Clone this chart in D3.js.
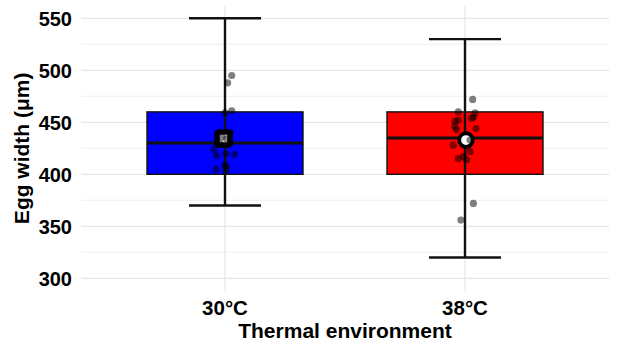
<!DOCTYPE html>
<html>
<head>
<meta charset="utf-8">
<script src="https://cdn.jsdelivr.net/npm/d3@7"></script>
<style>
  html, body { margin: 0; padding: 0; background: #fff; }
  svg { display: block; }
  text { font-family: "Liberation Sans", Arial, sans-serif; font-weight: bold; fill: #000; }
</style>
</head>
<body>
<svg id="chart" width="617" height="346"></svg>
<script>
// ---- data ----
const categories = ["30°C", "38°C"];
const boxFill = ["#0000FF", "#FF0000"];
const boxQ1 = [400, 400];
const boxMedian = [430, 435];
const boxQ3 = [460, 460];
const whiskerLow = [370, 320];
const whiskerHigh = [550, 530];
const points30 = [495, 488, 461, 459, 440, 436, 434, 430, 424, 420, 419, 418, 409, 407, 405, 404];
const jitter30 = [0.028, 0.011, 0.028, 0.0, 0.021, -0.013, 0.007, -0.021, -0.046, 0.004, 0.039, -0.035, 0.0, 0.004, -0.037, 0.004];
const points38 = [472, 460, 459, 455, 454, 452, 451, 446, 444, 443, 433, 428, 422, 417, 415, 414, 372, 356];
const jitter38 = [0.032, -0.028, 0.042, 0.035, 0.028, -0.028, -0.042, -0.042, 0.046, -0.035, 0.021, -0.049, 0.021, -0.007, -0.028, 0.007, 0.035, -0.017];
const yTicks = [300, 350, 400, 450, 500, 550];
const yMinor = [325, 375, 425, 475, 525];
const yTitle = "Egg width (μm)";
const xTitle = "Thermal environment";

const pointSets = [points30, points38];
const jitterSets = [jitter30, jitter38];

// ---- layout ----
const svg = d3.select("#chart");
const panel = { left: 81, right: 609, top: 5.3, bottom: 291.3 };

const x = d3.scalePoint().domain(categories).range([panel.left, panel.right]).padding(0.6);
const step = x.step();
const y = d3.scaleLinear().domain([287.5, 562.5]).range([panel.bottom, panel.top]);

// gridlines
const grid = svg.append("g");
grid.selectAll("line.minor").data(yMinor).join("line")
  .attr("x1", panel.left).attr("x2", panel.right)
  .attr("y1", d => y(d)).attr("y2", d => y(d))
  .attr("stroke", "#ebebeb").attr("stroke-width", 0.8);
grid.selectAll("line.major").data(yTicks).join("line")
  .attr("x1", panel.left).attr("x2", panel.right)
  .attr("y1", d => y(d)).attr("y2", d => y(d))
  .attr("stroke", "#e6e6e6").attr("stroke-width", 1.2);
grid.selectAll("line.vmajor").data(categories).join("line")
  .attr("x1", d => x(d)).attr("x2", d => x(d))
  .attr("y1", panel.top).attr("y2", panel.bottom)
  .attr("stroke", "#e6e6e6").attr("stroke-width", 1.2);

// boxes
const boxHalf = 0.325 * step;
const capHalf = 0.15 * step;
const idx = categories.map((c, i) => i);

const boxes = svg.append("g");
boxes.selectAll("rect").data(idx).join("rect")
  .attr("x", i => x(categories[i]) - boxHalf)
  .attr("width", 2 * boxHalf)
  .attr("y", i => y(boxQ3[i]))
  .attr("height", i => y(boxQ1[i]) - y(boxQ3[i]))
  .attr("fill", i => boxFill[i])
  .attr("stroke", "#111").attr("stroke-width", 1.4);
boxes.selectAll("line.median").data(idx).join("line")
  .attr("x1", i => x(categories[i]) - boxHalf)
  .attr("x2", i => x(categories[i]) + boxHalf)
  .attr("y1", i => y(boxMedian[i])).attr("y2", i => y(boxMedian[i]))
  .attr("stroke", "#111").attr("stroke-width", 3);

// whiskers (error bars)
const wh = svg.append("g").attr("stroke", "#111").attr("stroke-width", 2.4);
wh.selectAll("line.v").data(idx).join("line")
  .attr("x1", i => x(categories[i])).attr("x2", i => x(categories[i]))
  .attr("y1", i => y(whiskerLow[i])).attr("y2", i => y(whiskerHigh[i]));
wh.selectAll("line.lo").data(idx).join("line")
  .attr("x1", i => x(categories[i]) - capHalf).attr("x2", i => x(categories[i]) + capHalf)
  .attr("y1", i => y(whiskerLow[i])).attr("y2", i => y(whiskerLow[i]));
wh.selectAll("line.hi").data(idx).join("line")
  .attr("x1", i => x(categories[i]) - capHalf).attr("x2", i => x(categories[i]) + capHalf)
  .attr("y1", i => y(whiskerHigh[i])).attr("y2", i => y(whiskerHigh[i]));

// mean markers
const means = pointSets.map(p => d3.mean(p));
const mg = svg.append("g");
const sq = 13;
mg.append("rect")
  .attr("x", x(categories[0]) - 1.5 - sq / 2).attr("y", y(means[0]) - sq / 2)
  .attr("width", sq).attr("height", sq).attr("rx", 1.5)
  .attr("fill", "#fff").attr("stroke", "#000").attr("stroke-width", 5.5)
  .attr("stroke-linejoin", "round");
mg.append("circle")
  .attr("cx", x(categories[1]) + 1).attr("cy", y(means[1]))
  .attr("r", 6.8)
  .attr("fill", "#fff").attr("stroke", "#000").attr("stroke-width", 3.8);

// jitter points
const pts = [];
pointSets.forEach((p, i) => p.forEach((v, j) => pts.push({ c: categories[i], v, dx: jitterSets[i][j] })));
svg.append("g").selectAll("circle").data(pts).join("circle")
  .attr("cx", d => x(d.c) + d.dx * step)
  .attr("cy", d => y(d.v))
  .attr("r", 3.6)
  .attr("fill", "#000").attr("fill-opacity", 0.5);

// y axis labels
svg.append("g").selectAll("text").data(yTicks).join("text")
  .attr("x", 72).attr("y", d => y(d)).attr("dy", "0.36em")
  .attr("text-anchor", "end").style("font-size", "20px")
  .text(d => d);

// x axis labels
svg.append("g").selectAll("text").data(categories).join("text")
  .attr("x", d => x(d)).attr("y", 315)
  .attr("text-anchor", "middle").style("font-size", "20.5px")
  .text(d => d);

// titles
svg.append("text")
  .attr("x", (panel.left + panel.right) / 2).attr("y", 338)
  .attr("text-anchor", "middle").style("font-size", "21px")
  .text(xTitle);
svg.append("text")
  .attr("transform", `translate(29, ${(panel.top + panel.bottom) / 2}) rotate(-90)`)
  .attr("text-anchor", "middle").style("font-size", "21px")
  .text(yTitle);
</script>
</body>
</html>
